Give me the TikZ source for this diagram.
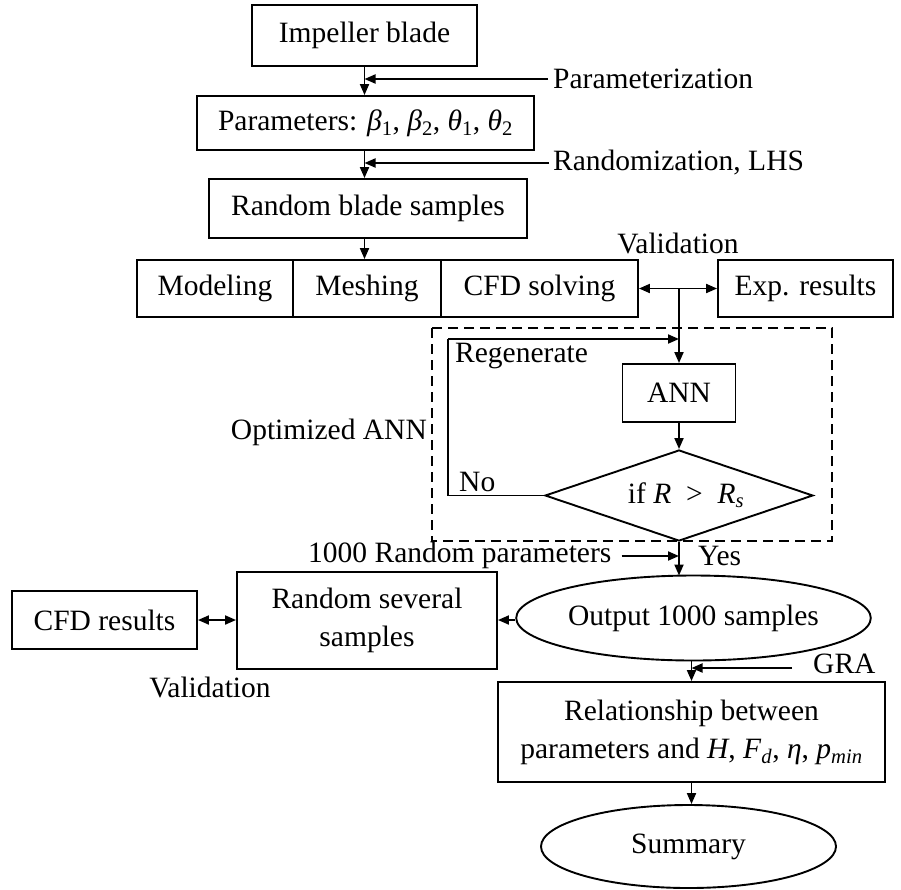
\documentclass[tikz,border=0pt]{standalone}
\usepackage{fontspec}
\setmainfont{Liberation Serif}
\usetikzlibrary{shapes.geometric,arrows.meta}
\newcommand{\lsub}[1]{\textsubscript{#1}}
\begin{document}
\begin{tikzpicture}[x=1pt,y=-1pt,
  every node/.style={font=\fontsize{29.5}{38}\selectfont},
  box/.style={draw, line width=1.9pt, inner sep=0pt, align=center},
  ell/.style={draw, ellipse, line width=1.9pt, inner sep=0pt},
  dia/.style={draw, diamond, aspect=2.95, line width=1.9pt, inner sep=0pt},
  lbl/.style={inner sep=0pt},
  ln/.style={line width=1.9pt},
  arr/.style={line width=1.9pt, -{Triangle[length=11pt,width=9pt]}},
  darr/.style={line width=1.9pt, {Triangle[length=11pt,width=9pt]}-{Triangle[length=11pt,width=9pt]}},
  dbox/.style={line width=1.9pt, dash pattern=on 10pt off 6pt}
]
\useasboundingbox (0,0) rectangle (901,889);

% top chain
\node[box, minimum width=225, minimum height=61] (imp) at (364.5,35.5) {Impeller blade};
\node[box, minimum width=337, minimum height=54] (par) at (365.5,123)
  {Parameters: \textit{β}\lsub{1}, \textit{β}\lsub{2}, \textit{θ}\lsub{1}, \textit{θ}\lsub{2}};
\node[box, minimum width=318, minimum height=59] (rbs) at (368,208.5) {Random blade samples};
\node[lbl, anchor=west] (ptxt) at (553,79) {Parameterization};
\node[lbl, anchor=west] (rtxt) at (553,163) {Randomization, LHS};

% row
\node[box, minimum width=156, minimum height=57] (mod) at (215,288.5) {Modeling};
\node[box, minimum width=148, minimum height=57] (mesh) at (367,288.5) {Meshing};
\node[box, minimum width=197, minimum height=57] (cfd) at (539.5,288.5) {CFD solving};
\node[box, minimum width=175, minimum height=57] (exp) at (805.5,288.5) {Exp. results};
\node[lbl] (val1) at (678,243) {Validation};

% optimized ANN block
\draw[dbox] (432,328) rectangle (832,541);
\node[box, minimum width=113, minimum height=58] (ann) at (679,393) {ANN};
\node[dia, minimum width=268, minimum height=91] (dec) at (679,495.5)
  {\hspace*{14pt}if \textit{R}\enspace>\enspace\textit{R}\lsub{\textit{s}}};
\node[lbl, anchor=west] (regen) at (455,356) {Regenerate};
\node[lbl, anchor=west] (no) at (459,482) {No};
\node[lbl, anchor=east] (optann) at (427,432) {Optimized ANN};
\coordinate (rg) at (448,339);

% lower part
\node[lbl, anchor=west] (rnd) at (308,555) {1000 Random parameters};
\node[lbl, anchor=west] (yes) at (698,556) {Yes};
\node[ell, minimum width=295, minimum height=85] (out) at (693.5,618) {Output 1000 samples};
\node[box, minimum width=260, minimum height=97] (rss) at (367,620.5) {Random several\\samples};
\node[box, minimum width=185, minimum height=58] (cfdr) at (104.5,620) {CFD results};
\node[lbl] (val2) at (210,687) {Validation};
\node[box, minimum width=387, minimum height=100] (rel) at (691.5,732)
  {Relationship between\\parameters and \textit{H}, \textit{F}\lsub{\textit{d}}, \textit{η}, \textit{p}\lsub{\textit{min}}};
\node[lbl, anchor=west] (gra) at (813,664) {GRA};
\node[ell, minimum width=295, minimum height=83] (sum) at (688.5,846.5) {Summary};

% connectors
\draw[arr] (imp.south -| imp.south) -- (par.north -| imp.south);
\draw[arr] ([xshift=-5pt]ptxt.west) -- (ptxt.west -| imp.south);
\draw[arr] (par.south -| imp.south) -- (rbs.north -| imp.south);
\draw[arr] ([xshift=-4pt]rtxt.west) -- (rtxt.west -| imp.south);
\draw[arr] (rbs.south -| imp.south) -- (mesh.north -| imp.south);
\draw[darr] (cfd.east) -- (exp.west);
\coordinate (j) at (cfd.east -| ann.north);
\draw[arr] (j) -- (ann.north);
\draw[arr] (ann.south) -- (dec.north);
\draw[ln] (dec.west) -| (rg);
\draw[arr] (rg) -- (rg -| ann.north);
\draw[arr] (dec.south) -- ([yshift=-1pt]out.north -| dec.south);
\draw[arr] ([xshift=10pt,yshift=-1pt]rnd.east) -- ([yshift=-1pt]rnd.east -| dec.south);
\draw[arr] ([yshift=-2pt]out.west) -- ([yshift=-2pt]out.west -| rss.east);
\draw[darr] (cfdr.east) -- (cfdr.east -| rss.west);
\draw[arr] (out.south -| rel.north) -- (rel.north);
\draw[arr] ([xshift=-21pt,yshift=-4pt]gra.west) -- ([yshift=-4pt]gra.west -| rel.north);
\draw[arr] (rel.south) -- (rel.south |- sum.north);
\end{tikzpicture}
\end{document}
